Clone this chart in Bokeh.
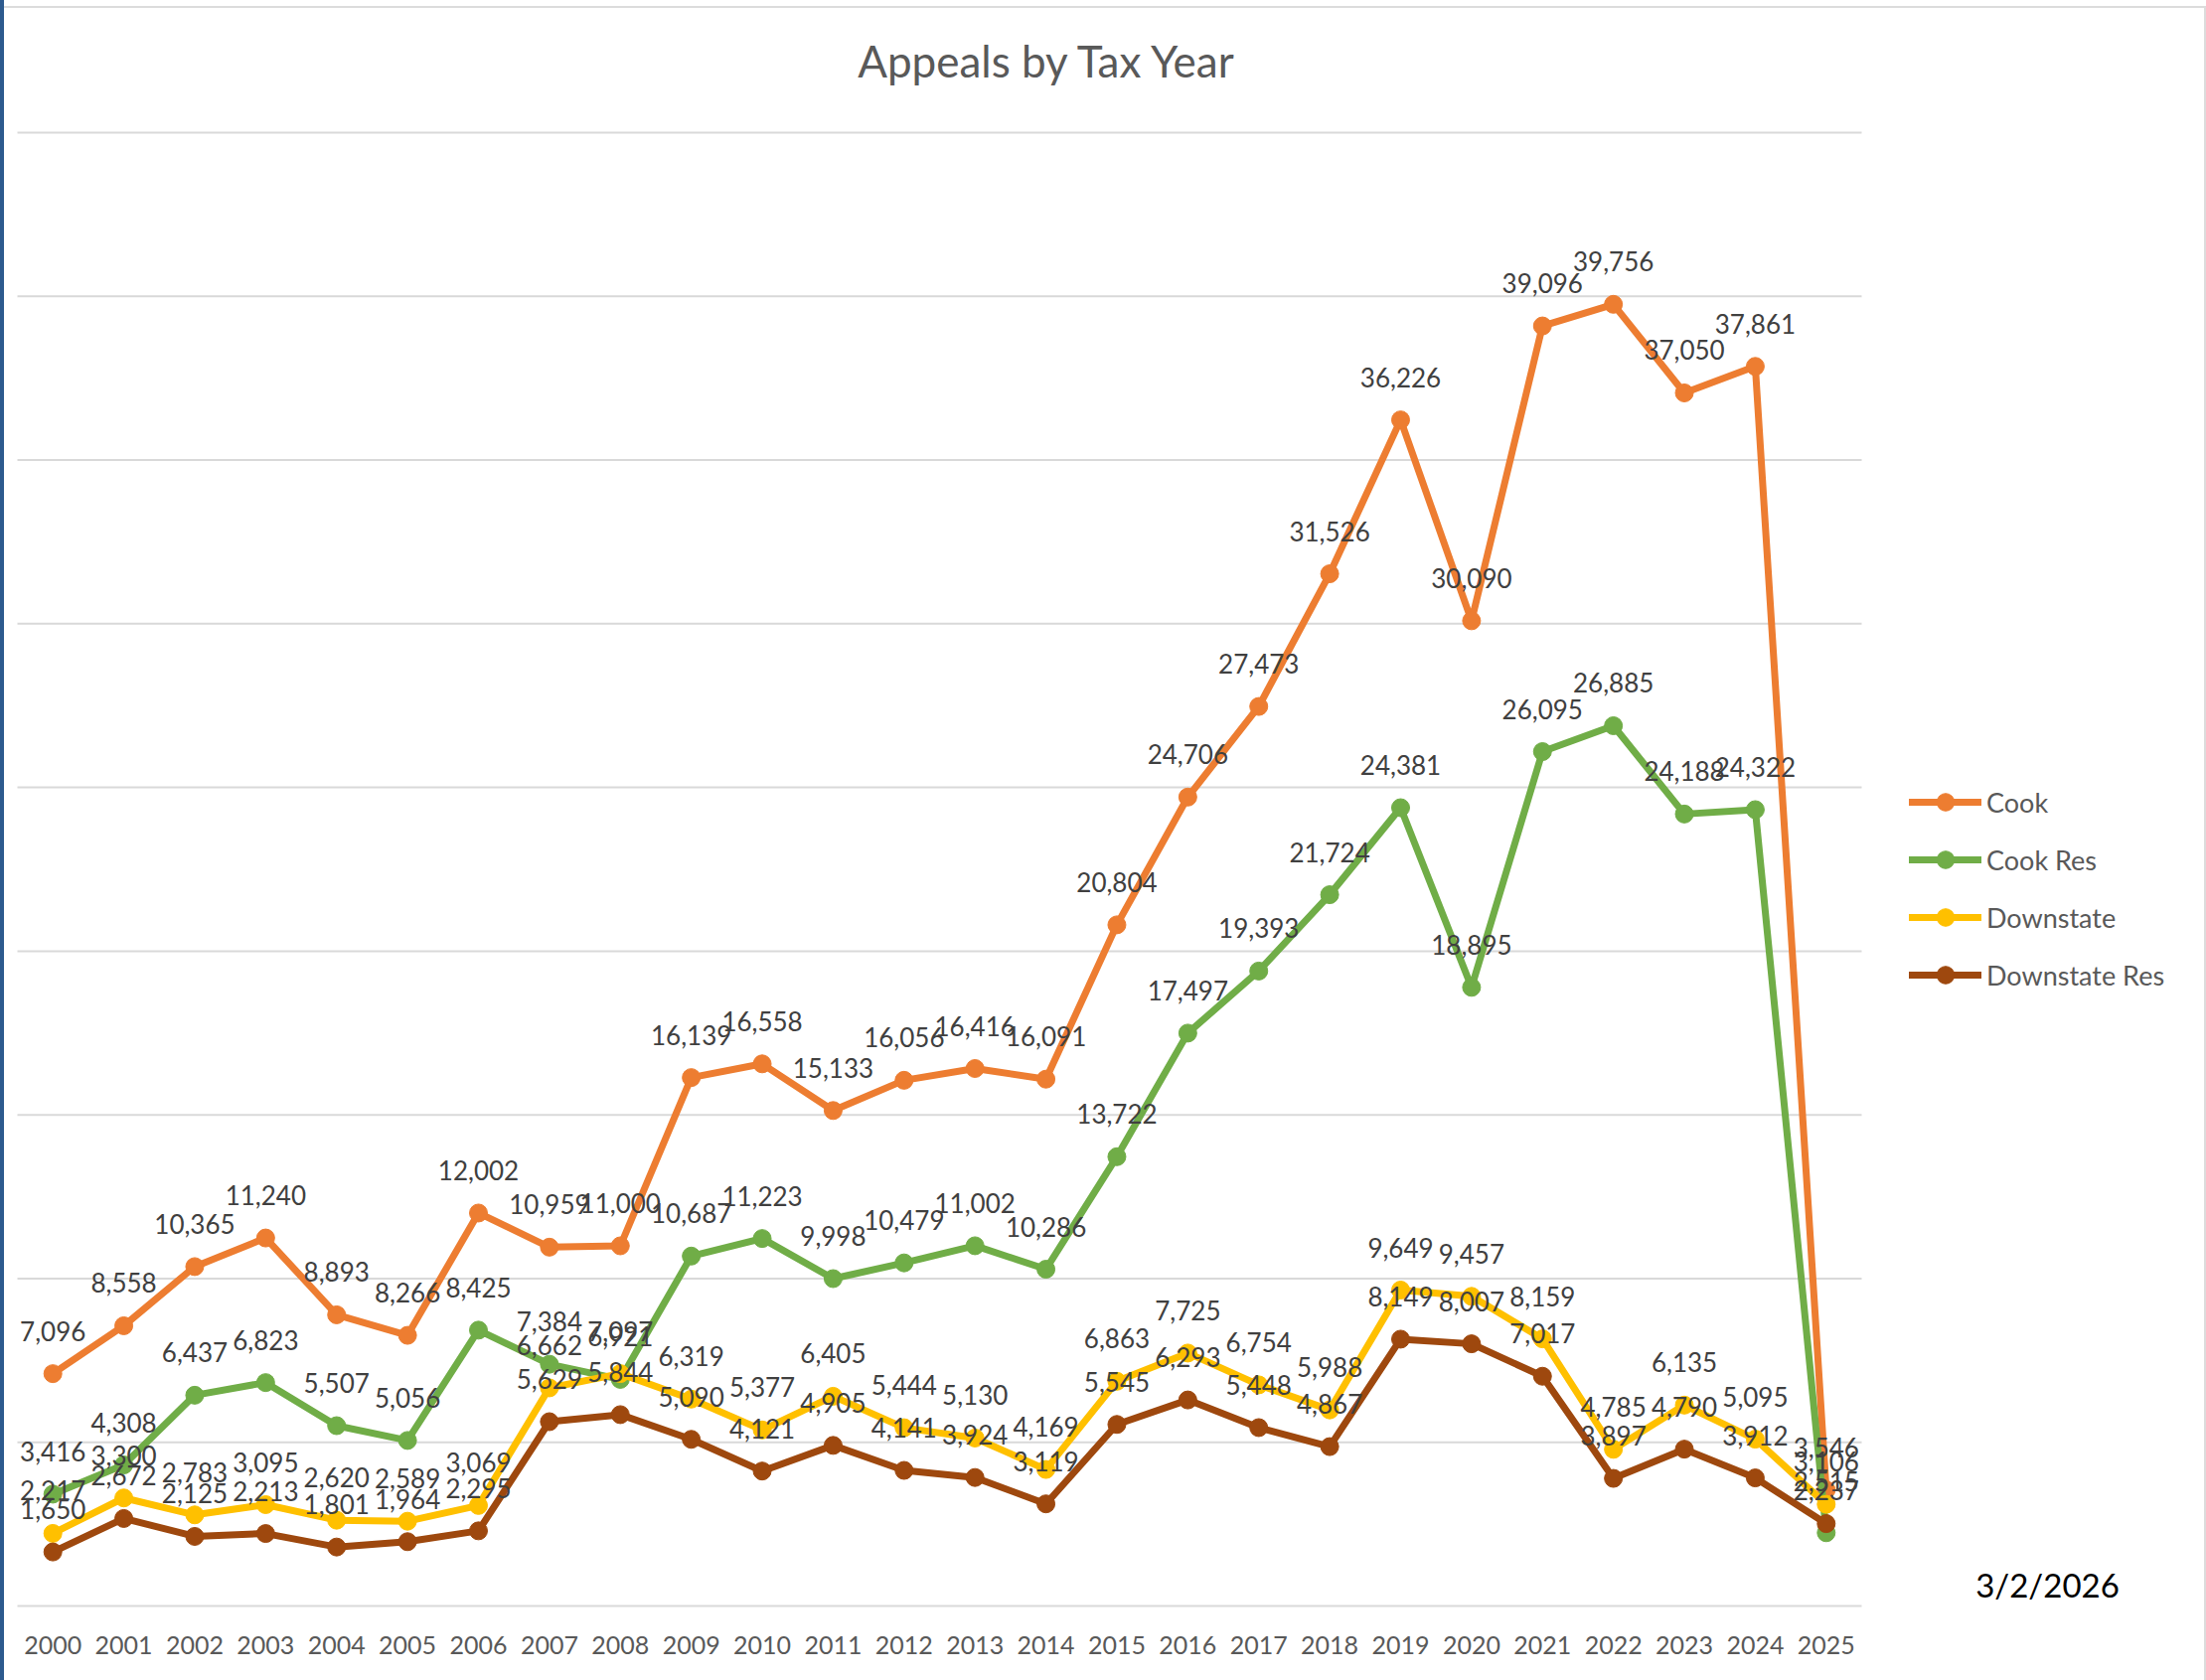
from bokeh.plotting import figure
from bokeh.models import Range1d, FixedTicker, Legend, LegendItem, Label
from bokeh.core.properties import value
from bokeh.embed import file_html
from bokeh.resources import INLINE

# ---------------- data ----------------
years = ["2000", "2001", "2002", "2003", "2004", "2005", "2006", "2007", "2008",
         "2009", "2010", "2011", "2012", "2013", "2014", "2015", "2016", "2017",
         "2018", "2019", "2020", "2021", "2022", "2023", "2024", "2025"]

cook = [7096, 8558, 10365, 11240, 8893, 8266, 12002, 10959, 11000, 16139,
        16558, 15133, 16056, 16416, 16091, 20804, 24706, 27473, 31526, 36226,
        30090, 39096, 39756, 37050, 37861, 3546]
cook_res = [3416, 4308, 6437, 6823, 5507, 5056, 8425, 7384, 6921, 10687,
            11223, 9998, 10479, 11002, 10286, 13722, 17497, 19393, 21724, 24381,
            18895, 26095, 26885, 24188, 24322, 2237]
downstate = [2217, 3300, 2783, 3095, 2620, 2589, 3069, 6662, 7097, 6319,
             5377, 6405, 5444, 5130, 4169, 6863, 7725, 6754, 5988, 9649,
             9457, 8159, 4785, 6135, 5095, 3106]
downstate_res = [1650, 2672, 2125, 2213, 1801, 1964, 2295, 5629, 5844, 5090,
                 4121, 4905, 4141, 3924, 3119, 5545, 6293, 5448, 4867, 8149,
                 8007, 7017, 3897, 4790, 3912, 2515]

series_names = ["Cook", "Cook Res", "Downstate", "Downstate Res"]
series_values = [cook, cook_res, downstate, downstate_res]
series_colors = ["#ED7D31", "#70AD47", "#FFC000", "#9E480E"]

y_ticks = [0, 5000, 10000, 15000, 20000, 25000, 30000, 35000, 40000, 45000]
title_text = "Appeals by Tax Year"
date_text = "3/2/2026"

FONT = "Lato"

# ---------------- layout (pixels) ----------------
W, H = 2220, 1691
FRAME_H = 1626                 # frame covers the canvas above the x axis
PLOT_L, PLOT_R = 17, 1873      # extent of the plot area (gridlines)
Y0_PX, YTOP_PX = 1616, 133     # pixel rows of 0 and of the top tick

year_nums = [int(y) for y in years]
px_per_year = (PLOT_R - PLOT_L) / len(years)
x_start = year_nums[0] - 0.5 - PLOT_L / px_per_year
x_end = x_start + W / px_per_year
px_per_unit = (Y0_PX - YTOP_PX) / (y_ticks[-1] - y_ticks[0])
y_start = y_ticks[0] - (FRAME_H - Y0_PX) / px_per_unit
y_end = y_start + FRAME_H / px_per_unit

p = figure(width=W, height=H,
           x_range=Range1d(x_start, x_end), y_range=Range1d(y_start, y_end),
           y_axis_location=None,
           output_backend="svg", toolbar_location=None,
           min_border_left=0, min_border_right=0,
           min_border_top=0, min_border_bottom=H - FRAME_H,
           background_fill_color=None, border_fill_color=None,
           outline_line_color=None)

p.styles = {"box-shadow": "inset 4px 0 0 #2d5a8e, inset 0 6px 0 #ffffff, "
                          "inset 0 8px 0 #dcdcdc, inset -2px 0 0 #dcdcdc"}

p.xgrid.visible = False
p.ygrid.visible = False

# horizontal gridlines over the plot area only
n = len(y_ticks)
p.segment(x0=[year_nums[0] - 0.5] * n, x1=[year_nums[-1] + 0.5] * n,
          y0=y_ticks, y1=y_ticks, line_color="#d9d9d9", line_width=2)

p.xaxis.ticker = FixedTicker(ticks=year_nums)
p.xaxis.axis_line_color = None
p.xaxis.major_tick_line_color = None
p.xaxis.minor_tick_line_color = None
p.xaxis.major_tick_out = 0
p.xaxis.major_label_standoff = 20
p.xaxis.major_label_text_font = FONT
p.xaxis.major_label_text_font_size = "25px"
p.xaxis.major_label_text_color = "#595959"

items = []
for name, vals, col in zip(series_names, series_values, series_colors):
    lr = p.line(x=year_nums, y=vals, line_color=col, line_width=7,
                line_join="round", line_cap="round")
    sr = p.scatter(x=year_nums, y=vals, size=18, fill_color=col, line_color=col)
    items.append(LegendItem(label=name, renderers=[lr, sr]))

for vals in series_values:
    p.text(x=year_nums, y=vals, text=[f"{v:,}" for v in vals],
           text_font=value(FONT), text_font_size="26px",
           text_color="#404040", text_align="center",
           text_baseline="alphabetic", y_offset=-43)

legend = Legend(items=items, location=(1921, FRAME_H - 1003),
                glyph_width=73, glyph_height=44, spacing=14,
                padding=0, margin=0, label_standoff=5,
                label_text_font=FONT, label_text_font_size="27px",
                label_text_color="#595959",
                border_line_color=None, background_fill_alpha=0)
p.add_layout(legend)

title = Label(x=1054, y=FRAME_H - 60, x_units="screen", y_units="screen",
              text=title_text, text_font=FONT, text_font_size="44px",
              text_color="#595959", text_align="center",
              text_baseline="alphabetic")
p.add_layout(title)

date = Label(x=2060, y=FRAME_H - 1594, x_units="screen", y_units="screen",
             text=date_text, text_font=FONT, text_font_size="33px",
             text_color="#000000", text_align="center",
             text_baseline="alphabetic")
p.add_layout(date)

open("out.html", "w").write(file_html(p, INLINE))
